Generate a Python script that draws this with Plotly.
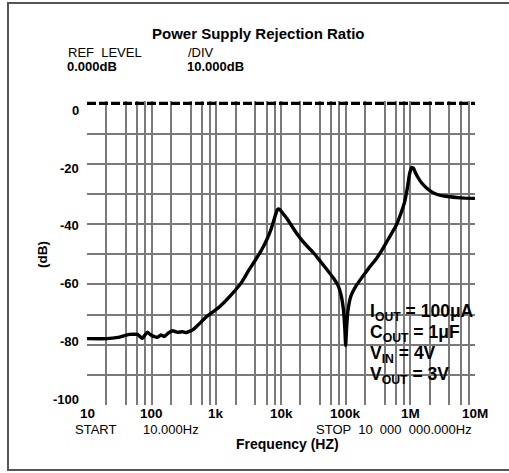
import math
import plotly.graph_objects as go

# ---------------- data ----------------
freq_hz = [10, 20, 30, 45, 60, 66, 72, 80, 86, 95, 110, 124, 139, 157, 180, 211, 252, 301, 340,
           430, 520, 690, 1100, 1780, 2500, 3200, 4000, 5000, 6000, 7000, 8000, 8800, 9500,
           11000, 12500, 15000, 19500, 25000, 32000, 40000, 53000, 65000, 77000, 85000, 92000,
           97000, 100000, 103000, 108000, 120000, 144000, 180000, 230000, 300000, 370000,
           450000, 600000, 700000, 810000, 900000, 970000, 1050000, 1120000, 1200000, 1300000,
           1500000, 1800000, 2200000, 2600000, 3500000, 5200000, 7000000, 10000000]
psrr_db = [-78.0, -78.0, -77.6, -76.6, -76.6, -77.3, -77.9, -76.6, -75.9, -76.6, -77.3, -77.5,
           -76.8, -77.3, -76.2, -75.4, -75.9, -75.7, -76.0, -75.1, -73.5, -70.9, -67.6, -63.0,
           -59.1, -55.2, -52.0, -48.6, -45.3, -41.8, -37.8, -35.2, -35.1, -36.8, -38.3, -41.0,
           -44.5, -47.2, -49.6, -52.2, -55.5, -58.0, -60.6, -63.6, -68.0, -74.5, -80.3, -75.0,
           -69.0, -64.0, -60.6, -57.6, -54.5, -51.4, -48.4, -45.2, -40.6, -37.0, -32.9, -28.0,
           -23.5, -21.2, -21.5, -23.0, -24.4, -26.4, -28.1, -29.5, -30.2, -30.8, -31.2, -31.4,
           -31.5]

ref_level_db = [0, 0]
ref_level_hz = [10, 10000000]

x_grid_vals = [10, 20, 40, 60, 80, 100, 200, 400, 600, 800, 1e3, 2e3, 4e3, 6e3, 8e3,
               1e4, 2e4, 4e4, 6e4, 8e4, 1e5, 2e5, 4e5, 6e5, 8e5, 1e6, 2e6, 4e6, 6e6, 8e6, 1e7]
x_label_vals = [10, 100, 1e3, 1e4, 1e5, 1e6, 1e7]
x_label_text = ["10", "100", "1k", "10k", "100k", "1M", "10M"]
y_grid_vals = [-100, -90, -80, -70, -60, -50, -40, -30, -20, -10]
y_label_vals = [0, -20, -40, -60, -80, -100]
y_label_text = ["0", "-20", "-40", "-60", "-80", "-100"]

title_text = "Power Supply Rejection Ratio"
conditions = ["I<sub>OUT</sub> = 100\u03bcA", "C<sub>OUT</sub> = 1\u03bcF",
              "V<sub>IN</sub> = 4V", "V<sub>OUT</sub> = 3V"]

# ---------------- layout geometry ----------------
W, H = 509, 473
ML, MR, MT, MB = 87, 34, 101, 68
PW, PH = W - ML - MR, H - MT - MB
FONT = "Liberation Sans, Arial, Helvetica, sans-serif"


def px_x(px):
    return (px - ML) / PW


def px_y(py):
    return (H - MB - py) / PH


fig = go.Figure()
fig.add_trace(go.Scatter(x=ref_level_hz, y=ref_level_db, mode="lines",
                         line=dict(color="black", width=3.4, dash="9px,3px"),
                         hoverinfo="skip", showlegend=False))
fig.add_trace(go.Scatter(x=freq_hz, y=psrr_db, mode="lines",
                         line=dict(color="black", width=3.4, shape="spline", smoothing=0.4),
                         showlegend=False))

ann = []
for v, t in zip(y_label_vals, y_label_text):
    ann.append(dict(x=0, xref="paper", y=v, yref="y", text=t, showarrow=False,
                    xanchor="right", yanchor="middle", xshift=-6,
                    yshift=-(7 + 0.13 * v),
                    font=dict(family=FONT, size=13, color="black", weight="bold")))
for v, t in zip(x_label_vals, x_label_text):
    ann.append(dict(x=math.log10(v), xref="x", y=0, yref="paper", text=t, showarrow=False,
                    xanchor="center", yanchor="top", yshift=0, borderpad=0,
                    font=dict(family=FONT, size=13.5, color="black", weight="bold")))

small = dict(family=FONT, size=13, color="black")
smallb = dict(family=FONT, size=13, color="black", weight="bold")
ann += [
    dict(x=px_x(258), y=px_y(33), xref="paper", yref="paper", text=title_text, showarrow=False,
         xanchor="center", yanchor="middle",
         font=dict(family=FONT, size=15, color="black", weight="bold")),
    dict(x=px_x(67), y=px_y(53), xref="paper", yref="paper", text="REF  LEVEL", showarrow=False,
         xanchor="left", yanchor="middle", font=small, borderpad=0),
    dict(x=px_x(66), y=px_y(67), xref="paper", yref="paper", text="0.000dB", showarrow=False,
         xanchor="left", yanchor="middle", font=smallb, borderpad=0),
    dict(x=px_x(187), y=px_y(53), xref="paper", yref="paper", text="/DIV", showarrow=False,
         xanchor="left", yanchor="middle", font=small, borderpad=0),
    dict(x=px_x(186), y=px_y(67), xref="paper", yref="paper", text="10.000dB", showarrow=False,
         xanchor="left", yanchor="middle", font=smallb, borderpad=0),
    dict(x=px_x(95), y=px_y(429), xref="paper", yref="paper", text="START", showarrow=False,
         xanchor="center", yanchor="middle", font=small, borderpad=0),
    dict(x=px_x(171), y=px_y(429), xref="paper", yref="paper", text="10.000Hz", showarrow=False,
         xanchor="center", yanchor="middle", font=small, borderpad=0),
    dict(x=px_x(394), y=px_y(429), xref="paper", yref="paper",
         text="STOP  10  000  000.000Hz", showarrow=False,
         xanchor="center", yanchor="middle", font=small, borderpad=0),
    dict(x=px_x(287), y=px_y(444), xref="paper", yref="paper", text="Frequency (HZ)",
         showarrow=False, xanchor="center", yanchor="middle", borderpad=0,
         font=dict(family=FONT, size=14, color="black", weight="bold")),
    dict(x=px_x(42), y=px_y(255), xref="paper", yref="paper", text="(dB)", showarrow=False,
         textangle=-90, xanchor="center", yanchor="middle",
         font=dict(family=FONT, size=13.5, color="black", weight="bold")),
]
for i, t in enumerate(conditions):
    ann.append(dict(x=px_x(369), y=px_y(312 + 21.3 * i), xref="paper", yref="paper", text=t,
                    showarrow=False, xanchor="left", yanchor="middle", borderpad=0,
                    font=dict(family=FONT, size=17.5, color="black", weight="bold")))

shapes = [dict(type="rect", xref="paper", yref="paper", x0=px_x(8), x1=px_x(512),
               y0=px_y(470), y1=px_y(3), line=dict(color="#555555", width=2), layer="below")]

fig.update_layout(
    width=W, height=H, margin=dict(l=ML, r=MR, t=MT, b=MB, autoexpand=False),
    paper_bgcolor="white", plot_bgcolor="white",
    annotations=ann, shapes=shapes, showlegend=False,
    xaxis=dict(type="log", range=[1, 7], tickvals=x_grid_vals, showticklabels=False,
               showgrid=True, gridcolor="#7a7a7a", gridwidth=1.6, zeroline=False,
               showline=False, ticks=""),
    yaxis=dict(range=[-100, 0.8], tickvals=y_grid_vals, showticklabels=False,
               showgrid=True, gridcolor="#7a7a7a", gridwidth=1.6, zeroline=False,
               showline=False, ticks=""),
)

fig.write_html("out.html", config={"displayModeBar": False},
               post_script="document.body.style.margin='0';document.body.style.overflow='hidden';")
